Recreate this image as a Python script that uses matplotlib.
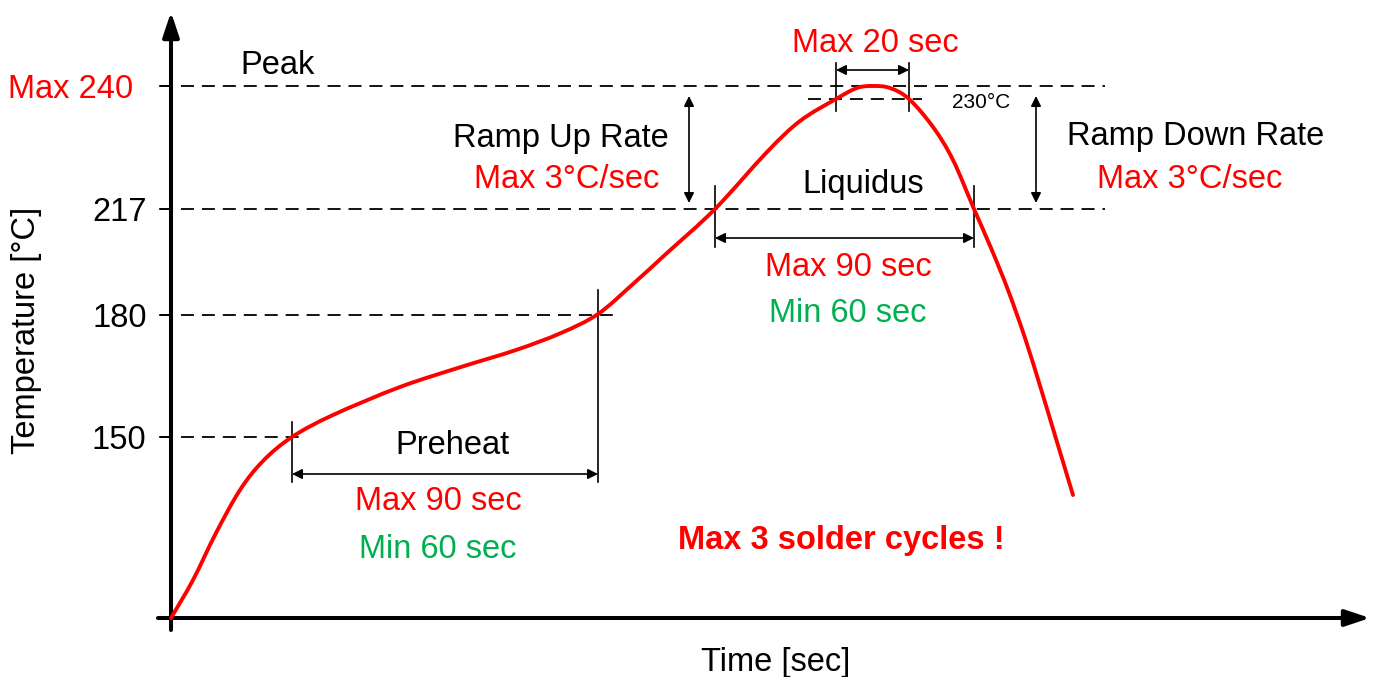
import matplotlib
matplotlib.use('Agg')
import matplotlib.pyplot as plt
import matplotlib.transforms as mtransforms
from matplotlib.path import Path
from matplotlib.patches import PathPatch

plt.rcParams['font.family'] = ['Liberation Sans', 'DejaVu Sans']

RED = '#ff0000'
GREEN = '#00b050'
FS = 23.5

# temperature levels on the y axis and their (schematic) heights in the sketch
levels = ['150', '180', '217', 'Max 240']
level_h = [181, 303, 409, 532]
h_230 = 519

# reflow profile (time, schematic height)
curve_t = [0, 22, 45, 69, 92, 121, 162, 229, 290, 345, 390, 427, 462, 496, 544,
           596, 629, 665, 686, 702, 719, 738, 762, 782, 803, 820, 837, 854, 870,
           886, 902]
curve_h = [0, 38, 85, 128, 157, 181, 203, 231, 251, 268, 285, 304, 334, 365, 409,
           466, 497, 519, 530, 532, 530, 519, 491, 458, 409, 370, 328, 280, 229,
           176, 123]

# zone limits (where the curve crosses the levels)
preheat = (121, 427)
liquidus = (544, 803)
peak = (665, 738)


def smooth_path(xs, ys):
    """Curva suave (Bezier tipo Catmull-Rom) que pasa por los puntos leidos"""
    pts = list(zip(xs, ys))
    verts = [pts[0]]
    codes = [Path.MOVETO]
    n = len(pts)
    for i in range(n - 1):
        p0 = pts[max(i - 1, 0)]
        p1 = pts[i]
        p2 = pts[i + 1]
        p3 = pts[min(i + 2, n - 1)]
        c1 = (p1[0] + (p2[0] - p0[0]) / 6, p1[1] + (p2[1] - p0[1]) / 6)
        c2 = (p2[0] - (p3[0] - p1[0]) / 6, p2[1] - (p3[1] - p1[1]) / 6)
        verts += [c1, c2, p2]
        codes += [Path.CURVE4] * 3
    return Path(verts, codes)


def dbl_arrow(ax, p0, p1):
    """Flecha doble fina de cota"""
    ax.annotate('', xy=p1, xytext=p0,
                arrowprops=dict(arrowstyle='<|-|>,head_length=0.6,head_width=0.3',
                                mutation_scale=10, lw=1.2, color='k',
                                shrinkA=0, shrinkB=0))


def axis_arrow(ax, p0, p1):
    ax.annotate('', xy=p1, xytext=p0,
                arrowprops=dict(arrowstyle='-|>,head_length=1.5,head_width=0.5',
                                mutation_scale=10, lw=2.9, color='k',
                                shrinkA=0, shrinkB=0))


fig = plt.figure(figsize=(13.75, 6.77), dpi=100)
ax = fig.add_axes([0, 0, 1, 1])
ax.set_xlim(-171, 1204)
ax.set_ylim(-59, 618)

for s in ax.spines.values():
    s.set_visible(False)
ax.spines['left'].set_position(('data', 0))
ax.spines['bottom'].set_position(('data', 0))
ax.set_xticks([])
ax.set_yticks(level_h, levels)
ax.tick_params(axis='y', direction='out', length=8.6, width=1.1, pad=9, labelsize=FS)
top_lbl = ax.get_yticklabels()[-1]
top_lbl.set_color(RED)
top_lbl.set_transform(top_lbl.get_transform() +
                      mtransforms.ScaledTranslation(-0.13, 0, fig.dpi_scale_trans))

ax.set_ylabel('Temperature [°C]', fontsize=FS, va='center')
ax.yaxis.set_label_coords(27 / 1375, 1 - 330 / 677)
ax.set_xlabel('Time [sec]', fontsize=FS, va='baseline')
ax.xaxis.set_label_coords(776 / 1375, 1 - 671 / 677)

# ejes con flecha
axis_arrow(ax, (0, -12), (0, 606))
axis_arrow(ax, (-13, 0), (1199, 0))

# lineas punteadas de nivel
dash = dict(color='k', lw=1.3, ls=(0, (7.2, 4.4)))
ax.plot([-11, 135], [level_h[0]] * 2, **dash)
ax.plot([-11, 446], [level_h[1]] * 2, **dash)
ax.plot([-11, 934], [level_h[2]] * 2, **dash)
ax.plot([-11, 934], [level_h[3]] * 2, **dash)
ax.plot([637, 751], [h_230] * 2, **dash)

# marcas verticales de las zonas
vline = dict(color='k', lw=1.2)
ax.plot([preheat[0]] * 2, [136, 196], **vline)
ax.plot([preheat[1]] * 2, [136, 328], **vline)
ax.plot([liquidus[0]] * 2, [371, 432], **vline)
ax.plot([liquidus[1]] * 2, [371, 432], **vline)
ax.plot([peak[0]] * 2, [507, 555], **vline)
ax.plot([peak[1]] * 2, [507, 555], **vline)

dbl_arrow(ax, (preheat[0], 144), (preheat[1], 144))
dbl_arrow(ax, (liquidus[0], 380), (liquidus[1], 380))
dbl_arrow(ax, (peak[0], 548), (peak[1], 548))
dbl_arrow(ax, (518, 415), (518, 522))
dbl_arrow(ax, (865, 415), (865, 522))

# curva de reflujo
ax.add_patch(PathPatch(smooth_path(curve_t, curve_h), fill=False, edgecolor=RED,
                       lw=2.8, capstyle='round', joinstyle='round', zorder=5))

# textos
txt = dict(fontsize=FS, va='center')
ax.text(107, 552, 'Peak', ha='center', **txt)
ax.text(704, 575, 'Max 20 sec', ha='center', color=RED, **txt)
ax.text(781, 515, '230°C', ha='left', fontsize=15, va='center')
ax.text(498, 480, 'Ramp Up Rate', ha='right', **txt)
ax.text(488, 438, 'Max 3°C/sec', ha='right', color=RED, **txt)
ax.text(692, 433, 'Liquidus', ha='center', **txt)
ax.text(1025, 482, 'Ramp Down Rate', ha='center', **txt)
ax.text(1019, 439, 'Max 3°C/sec', ha='center', color=RED, **txt)
ax.text(677, 351, 'Max 90 sec', ha='center', color=RED, **txt)
ax.text(677, 305, 'Min 60 sec', ha='center', color=GREEN, **txt)
ax.text(281, 172, 'Preheat', ha='center', **txt)
ax.text(267, 116, 'Max 90 sec', ha='center', color=RED, **txt)
ax.text(267, 68, 'Min 60 sec', ha='center', color=GREEN, **txt)
ax.text(670, 78, 'Max 3 solder cycles !', ha='center', color=RED,
        fontweight='bold', **txt)

fig.savefig('out.png', dpi=100)
